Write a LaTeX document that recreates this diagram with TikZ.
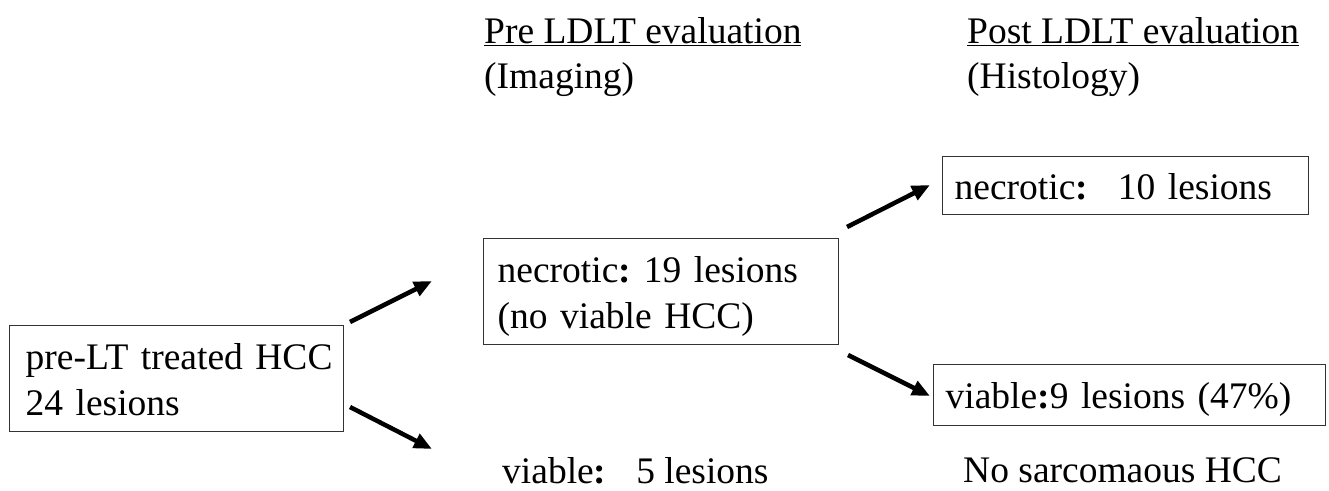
\documentclass[tikz,border=0pt]{standalone}
\usepackage{fontspec}
\setmainfont{Liberation Serif}
\usetikzlibrary{arrows.meta}
\newcommand\mystrut{\rule[-8.5pt]{0pt}{44.5pt}}
\newcommand\bcolon{\textbf{:}}
\begin{document}
\begin{tikzpicture}[x=1pt,y=-1pt,
  font=\fontsize{37.5pt}{44pt}\selectfont,
  box/.style={draw=black!80, line width=1.3pt, anchor=north west, align=left,
              inner ysep=0pt},
  lbl/.style={anchor=base west, inner sep=0pt},
  hdr/.style={anchor=north west, inner sep=0pt, align=left},
  arr/.style={line width=4.5pt, -{Triangle[length=18pt,width=15pt]}}]
\useasboundingbox (0,0) rectangle (1329,490);

% headers
\node[hdr] (prehdr) at (484,7) {\mystrut\underline{Pre LDLT evaluation}\\\mystrut(Imaging)};
\node[hdr] (posthdr) at (967,7) {\mystrut\underline{Post LDLT evaluation}\\\mystrut(Histology)};

% boxes
\node[box, inner xsep=10pt, text width=314pt, minimum width=334pt, minimum height=106pt] (pre) at (9,325)
  {\mystrut\hspace*{6pt}pre-LT treated HCC\\\mystrut\hspace*{6pt}24 lesions};
\node[box, inner xsep=14pt, text width=327pt, minimum width=355pt, minimum height=106pt] (nec) at (483,238)
  {\mystrut necrotic\bcolon\hspace{13pt}19 lesions\\\mystrut (no viable HCC)};
\node[box, inner xsep=12pt, text width=342pt, minimum width=366pt, minimum height=58pt] (hnec) at (942,156)
  {\mystrut necrotic\bcolon\hspace{30pt}10 lesions};
\node[box, inner xsep=12pt, text width=368pt, minimum width=392pt, minimum height=61pt] (hvia) at (933,364)
  {\mystrut viable\bcolon 9 lesions (47\%)};

% free labels
\node[lbl] (via) at (502,483) {viable\bcolon\hspace{30pt}5 lesions};
\node[lbl] (nosar) at (963,482) {No sarcomaous HCC};

% arrow end points
\coordinate (a1s) at (350,322);
\coordinate (a1e) at (432,281);
\coordinate (a2s) at (350,407);
\coordinate (a2e) at (432,449);
\coordinate (a3s) at (847,227);
\coordinate (a3e) at (930,185);
\coordinate (a4s) at (848,355);
\coordinate (a4e) at (930,396);

\draw[arr] (a1s) -- (a1e);
\draw[arr] (a2s) -- (a2e);
\draw[arr] (a3s) -- (a3e);
\draw[arr] (a4s) -- (a4e);
\end{tikzpicture}
\end{document}
